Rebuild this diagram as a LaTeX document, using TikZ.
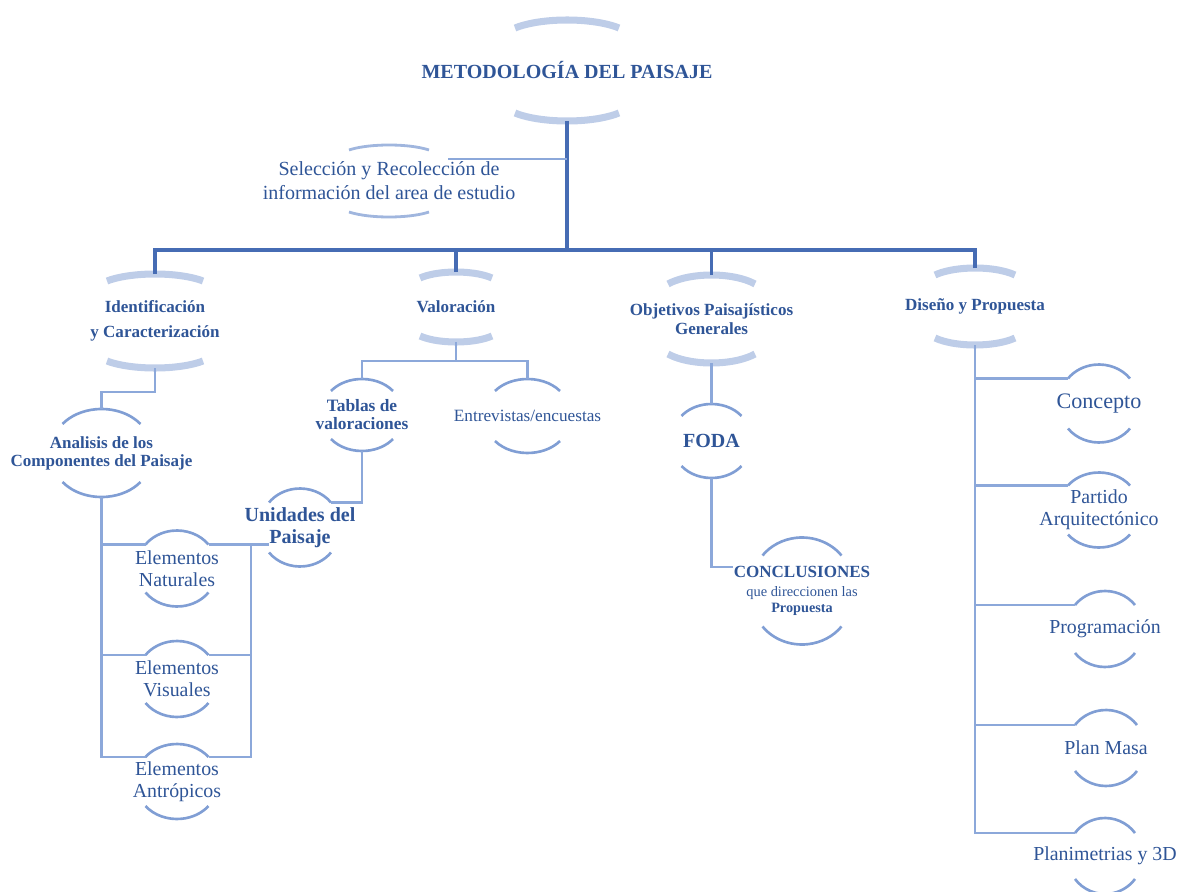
\documentclass[tikz,border=0pt]{standalone}
\usepackage{fontspec}
\setmainfont{Liberation Serif}

\definecolor{inkblue}{RGB}{47,85,151}
\definecolor{barblue}{RGB}{70,108,180}
\definecolor{lineblue}{RGB}{140,168,218}
\definecolor{arcpale}{RGB}{190,205,232}
\definecolor{arcblue}{RGB}{128,158,212}
\definecolor{arcsoft}{RGB}{160,182,222}

\tikzset{
  lbl/.style={inner sep=0pt, align=center, text=inkblue},
  titlelbl/.style={lbl, font=\fontsize{11.4}{13}\selectfont\bfseries},
  head/.style={lbl, font=\fontsize{9.7}{10.8}\selectfont\bfseries},
  bighead/.style={lbl, font=\fontsize{11.4}{12.5}\selectfont\bfseries},
  body/.style={lbl, font=\fontsize{11.3}{12.5}\selectfont},
  smallbody/.style={lbl, font=\fontsize{9.8}{11}\selectfont},
  mainline/.style={draw=barblue, line width=1.9pt},
  subline/.style={draw=lineblue, line width=1.6pt},
  thickarc/.style={draw=arcpale, line width=4pt},
  thinarc/.style={draw=arcblue, line width=1.5pt},
  softarc/.style={draw=arcsoft, line width=1.6pt}
}

\newcommand{\capsarcs}[5]{%
  \coordinate (#1-tr) at ([shift={(#2,#4-#3)}]#1.center);
  \coordinate (#1-tl) at ([shift={(-#2,#4-#3)}]#1.center);
  \coordinate (#1-br) at ([shift={(#2,-#4+#3)}]#1.center);
  \coordinate (#1-bl) at ([shift={(-#2,-#4+#3)}]#1.center);
  \coordinate (#1-t) at ([shift={(0,#4)}]#1.center);
  \coordinate (#1-b) at ([shift={(0,-#4)}]#1.center);
  \draw[#5] (#1-tr) arc[start angle=36.87, end angle=143.13, x radius=1.25*#2, y radius=2.5*#3];
  \draw[#5] (#1-bl) arc[start angle=216.87, end angle=323.13, x radius=1.25*#2, y radius=2.5*#3];
}

\begin{document}
\begin{tikzpicture}[x=0.02cm, y=0.02cm]
\useasboundingbox (0,0) rectangle (1184,-892);

\node[titlelbl] (title) at (567,-70.5) {METODOLOGÍA DEL PAISAJE};
\node[body, font=\fontsize{11.4}{13.6}\selectfont] (sel) at (389,-181) {Selección y Recolección de\\información del area de estudio};
\node[head] (ident) at (155,-321) {Identificación\\[3.4pt]y Caracterización};
\node[head] (valor) at (456,-307) {Valoración};
\node[head] (obj) at (711.5,-319) {Objetivos Paisajísticos\\Generales};
\node[head] (dis) at (975,-306.5) {Diseño y Propuesta};
\node[head, font=\fontsize{9.7}{10.2}\selectfont\bfseries] (anal) at (101.5,-453) {Analisis de los\\Componentes del Paisaje};
\node[body] (nat) at (177,-568.5) {Elementos\\Naturales};
\node[body] (vis) at (177,-679) {Elementos\\Visuales};
\node[body] (antr) at (177,-781.5) {Elementos\\Antrópicos};
\node[bighead] (unid) at (300,-527.5) {Unidades del\\Paisaje};
\node[head, font=\fontsize{9.9}{10.2}\selectfont\bfseries] (tabl) at (362,-415) {Tablas de\\valoraciones};
\node[smallbody] (entr) at (527.5,-416) {Entrevistas/encuestas};
\node[bighead] (foda) at (711.5,-441) {FODA};
\node[head] (concl) at (802,-591) {CONCLUSIONES\\{\fontsize{8.2}{8}\selectfont\mdseries que direccionen las}\\[-2pt]{\fontsize{8.1}{8}\selectfont Propuesta}};
\node[body, font=\fontsize{12.6}{14}\selectfont] (conc) at (1099,-403.5) {Concepto};
\node[body] (part) at (1099,-510) {Partido\\Arquitectónico};
\node[body] (prog) at (1105,-629) {Programación};
\node[body] (plan) at (1106,-748) {Plan Masa};
\node[body] (plani) at (1105,-856) {Planimetrias y 3D};

\capsarcs{title}{52}{8}{50.5}{thickarc}
\capsarcs{sel}{40}{5}{36}{softarc}
\capsarcs{ident}{48}{7}{47}{thickarc}
\capsarcs{valor}{36}{6}{35}{thickarc}
\capsarcs{obj}{43.5}{9}{44}{thickarc}
\capsarcs{dis}{40}{7}{38.5}{thickarc}
\capsarcs{anal}{39}{15}{44}{thinarc}
\capsarcs{nat}{31.5}{14}{38}{thinarc}
\capsarcs{vis}{31.5}{14}{38}{thinarc}
\capsarcs{antr}{31.5}{13}{37.5}{thinarc}
\capsarcs{unid}{31}{14}{39}{thinarc}
\capsarcs{tabl}{31}{12}{36}{thinarc}
\capsarcs{entr}{32.5}{12}{37}{thinarc}
\capsarcs{foda}{30}{12}{37}{thinarc}
\capsarcs{concl}{39.5}{18}{53.5}{thinarc}
\capsarcs{conc}{31}{14}{39}{thinarc}
\capsarcs{part}{31}{13}{37.5}{thinarc}
\capsarcs{prog}{30}{14}{38}{thinarc}
\capsarcs{plan}{31}{15}{38}{thinarc}
\capsarcs{plani}{30}{15}{38}{thinarc}

\coordinate (bar) at (567,-250);
\draw[mainline] (title-b) -- (bar);
\draw[mainline] (ident-t) |- (bar);
\draw[mainline] (valor-t) |- (bar);
\draw[mainline] (obj-t) |- (bar);
\draw[mainline] (dis-t) |- (bar);
\draw[subline, line width=1.2pt] ([shift={(19,-9)}]sel-tr) coordinate (selj) -- (selj -| title-b);

\draw[subline] (ident-b) -- ++(0,-24) -| (anal-t);
\draw[subline] (anal-b) |- (nat-tl);
\draw[subline] (anal-b) |- (vis-tl);
\draw[subline] (anal-b) |- (antr-tl);
\coordinate (elemr) at (251,-545);
\draw[subline] (nat-tr) -- (nat-tr -| unid-bl);
\draw[subline] (nat-tr -| elemr) |- (antr-tr);
\draw[subline] (vis-tr) -- (vis-tr -| elemr);

\draw[subline] (valor-b) -- ++(0,-19) -| (tabl-t);
\draw[subline] (valor-b) -- ++(0,-19) -| (entr-t);
\draw[subline] (tabl-b) |- (unid-tr);

\draw[subline] (obj-b) -- (foda-t);
\draw[subline] (foda-b) |- ([shift={(0,24)}]concl.west);

\draw[subline] (dis-b) |- (conc-tl);
\draw[subline] (dis-b) |- (part-tl);
\draw[subline] (dis-b) |- (prog-tl);
\draw[subline] (dis-b) |- (plan-tl);
\draw[subline] (dis-b) |- (plani-tl);
\end{tikzpicture}
\end{document}
